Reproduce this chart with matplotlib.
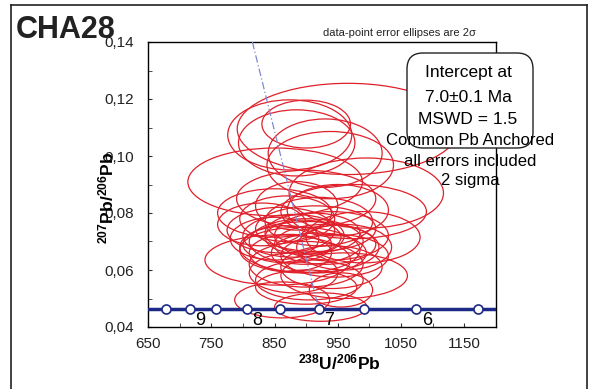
import matplotlib
matplotlib.use("Agg")
import matplotlib.pyplot as plt
from matplotlib.patches import Ellipse, FancyBboxPatch
from matplotlib.lines import Line2D

plt.rcParams['font.family'] = ['Liberation Sans', 'DejaVu Sans']
plt.rcParams['mathtext.fontset'] = 'custom'
plt.rcParams['mathtext.bf'] = 'Liberation Sans:bold'
plt.rcParams['mathtext.rm'] = 'Liberation Sans'

# error ellipses: centre x, centre y, half-width (x), half-height (y)
ell_x = [966, 900, 874, 885, 851, 995, 938, 930,
         850, 900, 975, 950, 870, 920, 990,
         880, 900, 870, 910, 850, 930, 890, 860, 940, 895, 905, 875, 920, 960,
         855, 900, 940, 880, 960, 862, 923, 900, 955,
         830, 915, 945, 885, 905]
ell_y = [0.1095, 0.1112, 0.1074, 0.1046, 0.0909, 0.0870, 0.0968, 0.1010,
         0.0800, 0.0850, 0.0805, 0.0810, 0.0780, 0.0770, 0.0715,
         0.0720, 0.0700, 0.0690, 0.0730, 0.0710, 0.0690, 0.0670, 0.0740, 0.0720,
         0.0715, 0.0680, 0.0660, 0.0660, 0.0680,
         0.0635, 0.0620, 0.0610, 0.0590, 0.0580, 0.0495, 0.0470, 0.0540, 0.0530,
         0.0760, 0.0745, 0.0650, 0.0825, 0.0565]
ell_a = [175, 70, 98, 92, 138, 122, 100, 90,
         90, 110, 115, 80, 75, 85, 90,
         80, 90, 70, 75, 70, 80, 95, 85, 90, 60, 110, 65, 75, 75,
         115, 90, 80, 70, 100, 75, 73, 80, 50,
         70, 95, 85, 65, 85]
ell_b = [0.0160, 0.0084, 0.0123, 0.0116, 0.0119, 0.0123, 0.0118, 0.0120,
         0.0085, 0.0100, 0.0095, 0.0090, 0.0080, 0.0085, 0.0090,
         0.0075, 0.0080, 0.0065, 0.0070, 0.0075, 0.0070, 0.0080, 0.0080, 0.0085,
         0.0060, 0.0090, 0.0065, 0.0070, 0.0080,
         0.0088, 0.0080, 0.0075, 0.0070, 0.0080, 0.0063, 0.0050, 0.0060, 0.0060,
         0.0075, 0.0080, 0.0075, 0.0085, 0.0070]

# concordia points (every 0.5 Ma, 9.5 to 5.5 Ma)
conc_x = [678, 716, 758, 806, 859, 920, 991, 1074, 1172]
conc_y = 0.0462
age_labels = ['9', '8', '7', '6']
age_x = [716, 806, 920, 1074]

# common-Pb anchored regression line
reg_x = [815, 920]
reg_y = [0.140, 0.0462]

fig = plt.figure(figsize=(5.94, 3.89), dpi=100)
ax = fig.add_axes([148/594, 1 - 327/389, 348/594, 285/389])

for x, y, a, b in zip(ell_x, ell_y, ell_a, ell_b):
    ax.add_patch(Ellipse((x, y), 2*a, 2*b, fill=False, edgecolor='#e0202a', lw=0.9, zorder=2))

ax.plot(reg_x, reg_y, color='#8088d0', lw=0.9, ls=(0, (6, 2, 1, 2)), zorder=3)

ax.axhline(conc_y, color='#1c2a85', lw=2.5, zorder=4)
ax.plot(conc_x, [conc_y]*len(conc_x), 'o', ms=6.5, mfc='white', mec='#1c2a85', mew=1.2, zorder=5)
for lab, x in zip(age_labels, age_x):
    ax.annotate(lab, (x, conc_y), xytext=(4, -2), textcoords='offset points',
                ha='left', va='top', fontsize=13, zorder=6)

ax.set_xlim(650, 1200)
ax.set_ylim(0.04, 0.14)
ax.set_xticks([650, 750, 850, 950, 1050, 1150])
ax.set_xticks([700, 800, 900, 1000, 1100, 1200], minor=True)
ax.set_yticks([0.04, 0.06, 0.08, 0.10, 0.12, 0.14])
ax.set_yticks([0.05, 0.07, 0.09, 0.11, 0.13], minor=True)
ax.set_yticklabels([f"{v:.2f}".replace('.', ',') for v in ax.get_yticks()])
ax.tick_params(which='both', direction='in', length=3, labelsize=11, color='#333333',
               labelcolor='#222222')
ax.tick_params(axis='x', pad=7)
ax.tick_params(axis='y', pad=10)
for s in ax.spines.values():
    s.set_linewidth(1.0)

# axis labels
fig.text(106/594, 1 - 198/389, r'$\mathbf{^{207}Pb/^{206}Pb}$', rotation=90,
         ha='center', va='center', fontsize=12.5)
fig.text(339/594, 1 - 362/389, r'$\mathbf{^{238}U/^{206}Pb}$',
         ha='center', va='center', fontsize=12.5)

fig.text(16/594, 1 - 30/389, 'CHA28', fontsize=22, fontweight='bold', color='#222222',
         ha='left', va='center')
fig.text(399/594, 1 - 33/389, 'data-point error ellipses are 2σ', fontsize=8,
         ha='center', va='center', color='#222222')

# result box
box = FancyBboxPatch((4.07, (389-148)/100), 1.26, 0.95, boxstyle='round,pad=0,rounding_size=0.16',
                     transform=fig.dpi_scale_trans, facecolor='white', edgecolor='#222222', lw=1.0, zorder=10)
fig.patches.append(box)
for txt, yy in [('Intercept at', 73), ('7.0±0.1 Ma', 97), ('MSWD = 1.5', 120)]:
    fig.text(468/594, 1 - yy/389, txt, fontsize=12.5, ha='center', va='center', zorder=11)
for txt, yy in [('Common Pb Anchored', 141), ('all errors included', 161), ('2 sigma', 180)]:
    fig.text(470/594, 1 - yy/389, txt, fontsize=12, ha='center', va='center', zorder=11)

# outer frame
fig.add_artist(Line2D([11/594, 11/594], [0, 1 - 5/389], color='#222222', lw=1.2))
fig.add_artist(Line2D([11/594, 587/594], [1 - 5/389, 1 - 5/389], color='#222222', lw=1.2))
fig.add_artist(Line2D([587/594, 587/594], [0, 1 - 5/389], color='#222222', lw=1.2))

fig.savefig('out.png', dpi=100)
